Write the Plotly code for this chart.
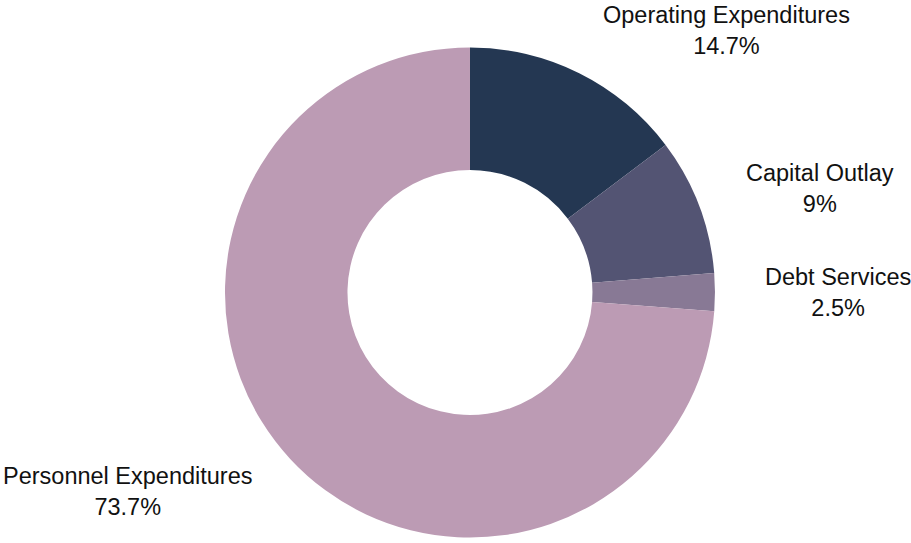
import math
import plotly.graph_objects as go

categories = ["Operating Expenditures", "Capital Outlay", "Debt Services", "Personnel Expenditures"]
shares = [14.7, 9.0, 2.5, 73.7]
colors = ["#243752", "#535473", "#887995", "#bc9bb4"]

W, H = 911, 543
dom_x = [0.2159, 0.8159]
dom_y = [0.0101, 0.9125]

fig = go.Figure(go.Pie(
    labels=categories,
    values=shares,
    hole=0.5,
    sort=False,
    direction="clockwise",
    rotation=0,
    domain=dict(x=dom_x, y=dom_y),
    marker=dict(colors=colors, line=dict(width=0)),
    textposition="none",
    hoverinfo="label+percent",
    showlegend=False,
))

# label placement derived from the slice mid-angles
cx = (dom_x[0] + dom_x[1]) / 2 * W
cy = (1 - (dom_y[0] + dom_y[1]) / 2) * H
r = min((dom_x[1] - dom_x[0]) * W, (dom_y[1] - dom_y[0]) * H) / 2
label_r = 1.195 * r
total = sum(shares)
cum = 0.0
annotations = []
for name, v in zip(categories, shares):
    mid = (cum + v / 2) / total * 2 * math.pi
    cum += v
    px = cx + label_r * math.sin(mid)
    py = cy - label_r * math.cos(mid)
    annotations.append(dict(
        x=px / W, y=1 - py / H, xref="paper", yref="paper",
        text=f"{name}<br>{v:g}%",
        showarrow=False,
        xanchor="left" if math.sin(mid) >= 0 else "right",
        yanchor="middle",
        align="center",
        font=dict(family="Liberation Sans, Arial, sans-serif", size=23.5, color="#111111"),
    ))

fig.update_layout(
    width=W,
    height=H,
    margin=dict(l=0, r=0, t=0, b=0),
    paper_bgcolor="white",
    plot_bgcolor="white",
    annotations=annotations,
)

fig.write_html(
    "out.html",
    config={"displayModeBar": False},
    post_script="document.body.style.margin='0';",
)
